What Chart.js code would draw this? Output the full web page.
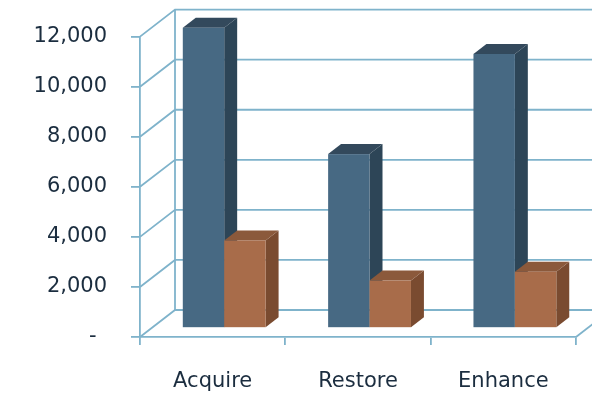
<!DOCTYPE html>
<html>
<head>
<meta charset="utf-8">
<script src="https://cdn.jsdelivr.net/npm/chart.js@4/dist/chart.umd.min.js"></script>
<style>
  html, body { margin: 0; padding: 0; background: #ffffff; }
  canvas { display: block; }
</style>
</head>
<body>
<canvas id="chart" width="592" height="397"></canvas>
<script>
// Programme spend by activity
const categories = ['Acquire', 'Restore', 'Enhance'];
const seriesA = [12000, 6950, 10950];
const seriesB = [3500, 1900, 2250];
const yTicks = [0, 2000, 4000, 6000, 8000, 10000, 12000];

const GRID = '#7fb3cb';
const TEXT = '#1b2d3f';
const WALL_DX = 35, WALL_DY = -27;   // offset of the back wall from the front plane
const BAR_SHIFT = 0.33;              // where the bar fronts sit along the depth
const BAR_DEPTH = 0.37;              // bar thickness along the depth

const faces = [
  { front: '#476983', side: '#2d4557', top: '#33495c' },
  { front: '#a86c4a', side: '#7a4b30', top: '#8b593b' }
];

// Draws the back wall, floor edge and the bars as boxes
const box3d = {
  id: 'box3d',
  beforeDatasetsDraw(chart) {
    const ctx = chart.ctx, ys = chart.scales.y, a = chart.chartArea;
    ctx.save();
    ctx.strokeStyle = GRID;
    ctx.lineWidth = 1.8;
    yTicks.forEach(v => {
      const py = ys.getPixelForValue(v);
      ctx.beginPath();
      ctx.moveTo(a.left, py);
      ctx.lineTo(a.left + WALL_DX, py + WALL_DY);
      ctx.lineTo(chart.width, py + WALL_DY);
      ctx.stroke();
    });
    ctx.beginPath();
    ctx.moveTo(a.left + WALL_DX, ys.getPixelForValue(yTicks[0]) + WALL_DY);
    ctx.lineTo(a.left + WALL_DX, ys.getPixelForValue(yTicks[yTicks.length - 1]) + WALL_DY);
    ctx.stroke();
    ctx.beginPath();
    ctx.moveTo(a.right, a.bottom);
    ctx.lineTo(a.right + WALL_DX, a.bottom + WALL_DY);
    ctx.stroke();

    const sx = WALL_DX * BAR_SHIFT, sy = WALL_DY * BAR_SHIFT;
    const dx = WALL_DX * BAR_DEPTH, dy = WALL_DY * BAR_DEPTH;
    categories.forEach((c, i) => {
      chart.data.datasets.forEach((ds, d) => {
        const el = chart.getDatasetMeta(d).data[i];
        const l = el.x - el.width / 2 + sx, r = el.x + el.width / 2 + sx;
        const t = el.y + sy, b = el.base + sy;
        const f = faces[d];
        ctx.fillStyle = f.side;
        ctx.beginPath();
        ctx.moveTo(r, b); ctx.lineTo(r + dx, b + dy); ctx.lineTo(r + dx, t + dy); ctx.lineTo(r, t);
        ctx.closePath(); ctx.fill();
        ctx.fillStyle = f.top;
        ctx.beginPath();
        ctx.moveTo(l, t); ctx.lineTo(l + dx, t + dy); ctx.lineTo(r + dx, t + dy); ctx.lineTo(r, t);
        ctx.closePath(); ctx.fill();
        ctx.fillStyle = f.front;
        ctx.fillRect(l, t, r - l, b - t);
      });
    });
    ctx.restore();
    return false;
  }
};

new Chart(document.getElementById('chart'), {
  type: 'bar',
  data: {
    labels: categories,
    datasets: [
      { data: seriesA, backgroundColor: faces[0].front },
      { data: seriesB, backgroundColor: faces[1].front }
    ]
  },
  options: {
    responsive: false,
    animation: false,
    devicePixelRatio: 1,
    layout: { padding: { left: 0, top: 35, right: 16, bottom: 0 } },
    categoryPercentage: 0.57,
    barPercentage: 1.0,
    plugins: { legend: { display: false }, tooltip: { enabled: false } },
    scales: {
      x: {
        afterFit(s) { s.height = 60; },
        grid: { drawOnChartArea: false, color: GRID, lineWidth: 1.8, tickLength: 8, offset: true },
        border: { color: GRID, width: 1.8 },
        ticks: { color: TEXT, padding: 24, font: { family: 'DejaVu Sans', size: 21 } }
      },
      y: {
        min: 0, max: 12000,
        afterFit(s) { s.width = 140; },
        afterBuildTicks(s) { s.ticks = yTicks.map(v => ({ value: v })); },
        grid: { drawOnChartArea: false, color: GRID, lineWidth: 1.8, tickLength: 9 },
        border: { color: GRID, width: 1.8 },
        ticks: {
          color: TEXT, padding: 24,
          font: { family: 'DejaVu Sans', size: 21 },
          callback: v => v === 0 ? '-\u2002' : v.toLocaleString('en-US')
        }
      }
    }
  },
  plugins: [box3d]
});
</script>
</body>
</html>
